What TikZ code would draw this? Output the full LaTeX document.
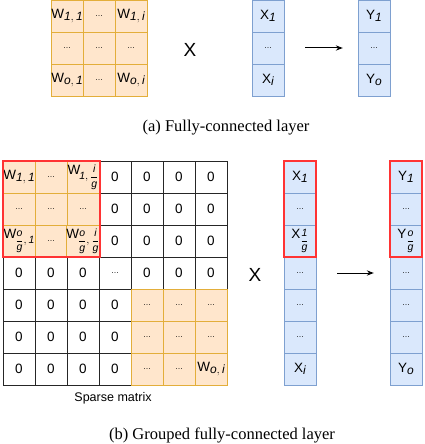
\documentclass[tikz,border=0pt]{standalone}
\usepackage{amsmath}
\usepackage{fontspec}
\setmainfont{Liberation Sans}
\newfontfamily\capfont{Liberation Serif}
\usetikzlibrary{positioning, arrows.meta}

\definecolor{wfill}{HTML}{FFE6CC}
\definecolor{wline}{HTML}{E3AE3A}
\definecolor{vfill}{HTML}{DAE8FC}
\definecolor{vline}{HTML}{7EA0D0}
\definecolor{grpred}{HTML}{FF3333}

\newcommand{\ellip}{{\footnotesize\dots}}
\newcommand{\subs}[1]{\raisebox{-0.35ex}{\fontsize{12}{12}\selectfont$\mathit{#1}$}}
\newcommand{\fsubs}[1]{\raisebox{-0.75ex}{\fontsize{10.5}{11}\selectfont$\mathit{#1}$}}

\begin{document}
\begin{tikzpicture}[x=1pt, y=-1pt,
  cell/.style={draw, minimum size=32pt, inner sep=0pt, font=\fontsize{13.5}{15}\selectfont},
  wcell/.style={cell, fill=wfill, draw=wline},
  zcell/.style={cell, draw=black!85},
  vcell/.style={cell, fill=vfill, draw=vline},
  grp/.style={draw=grpred, line width=2.4pt},
  times/.style={font=\fontsize{19}{20}\selectfont},
  edge/.style={-{Stealth[length=7pt]}, line width=1pt},
  caption/.style={font=\capfont\fontsize{16.5}{18}\selectfont}
]
  \useasboundingbox (0,0) rectangle (424,444);

  % (a) dense weights times input
  \foreach \t [count=\c] in {{W\subs{1,1}}, \ellip, {W\subs{1,i}}}
    \node[wcell] (wa1\c) at ({35+32*\c},16) {\t};
  \foreach \t [count=\c] in {\ellip, \ellip, \ellip}
    \node[wcell] (wa2\c) at ({35+32*\c},48) {\t};
  \foreach \t [count=\c] in {{W\subs{o,1}}, \ellip, {W\subs{o,i}}}
    \node[wcell] (wa3\c) at ({35+32*\c},80) {\t};

  \node[times] (timesa) at (190,50) {X};

  \foreach \t [count=\r] in {{X\subs{1}}, \ellip, {X\subs{i}}}
    \node[vcell] (xa\r) at (268,{32*\r-16}) {\t};
  \foreach \t [count=\r] in {{Y\subs{1}}, \ellip, {Y\subs{o}}}
    \node[vcell] (ya\r) at (374,{32*\r-16}) {\t};

  \draw[edge] ([xshift=21pt]xa2.east) -- ([xshift=-15pt]ya2.west);

  \node[caption] (capa) at (226,128) {(a) Fully-connected layer};

  % (b) grouped weights as a sparse matrix
  \foreach \s/\t [count=\c] in {wcell/{W\subs{1,1}}, wcell/\ellip, wcell/{W\kern-1pt\fsubs{1,\dfrac{i}{g}}}, zcell/0, zcell/0, zcell/0, zcell/0}
    \node[\s] (wb1\c) at ({32*\c-13},177) {\t};
  \foreach \s/\t [count=\c] in {wcell/\ellip, wcell/\ellip, wcell/\ellip, zcell/0, zcell/0, zcell/0, zcell/0}
    \node[\s] (wb2\c) at ({32*\c-13},209) {\t};
  \foreach \s/\t [count=\c] in {wcell/{W\kern-1pt\fsubs{\dfrac{o}{g},1}}, wcell/\ellip, wcell/{W\kern-1pt\fsubs{\dfrac{o}{g},\dfrac{i}{g}}}, zcell/0, zcell/0, zcell/0, zcell/0}
    \node[\s] (wb3\c) at ({32*\c-13},241) {\t};
  \foreach \s/\t [count=\c] in {zcell/0, zcell/0, zcell/0, zcell/\ellip, zcell/0, zcell/0, zcell/0}
    \node[\s] (wb4\c) at ({32*\c-13},273) {\t};
  \foreach \s/\t [count=\c] in {zcell/0, zcell/0, zcell/0, zcell/0, wcell/\ellip, wcell/\ellip, wcell/\ellip}
    \node[\s] (wb5\c) at ({32*\c-13},305) {\t};
  \foreach \s/\t [count=\c] in {zcell/0, zcell/0, zcell/0, zcell/0, wcell/\ellip, wcell/\ellip, wcell/\ellip}
    \node[\s] (wb6\c) at ({32*\c-13},337) {\t};
  \foreach \s/\t [count=\c] in {zcell/0, zcell/0, zcell/0, zcell/0, wcell/\ellip, wcell/\ellip, wcell/{W\subs{o,i}}}
    \node[\s] (wb7\c) at ({32*\c-13},369) {\t};

  \node[font=\fontsize{12.5}{14}\selectfont] (sparse) at (113,398) {Sparse matrix};

  \node[times] (timesb) at (255,275) {X};

  \foreach \t [count=\r] in {{X\subs{1}}, \ellip, {X\fsubs{\dfrac{1}{g}}}, \ellip, \ellip, \ellip, {X\subs{i}}}
    \node[vcell] (xb\r) at (300,{145+32*\r}) {\t};
  \foreach \t [count=\r] in {{Y\subs{1}}, \ellip, {Y\fsubs{\dfrac{o}{g}}}, \ellip, \ellip, \ellip, {Y\subs{o}}}
    \node[vcell] (yb\r) at (406,{145+32*\r}) {\t};

  \draw[edge] ([xshift=21pt]xb4.east) -- ([xshift=-16pt]yb4.west);

  % groups
  \draw[grp] (wb11.north west) rectangle (wb33.south east);
  \draw[grp] (xb1.north west) rectangle (xb3.south east);
  \draw[grp] (yb1.north west) rectangle (yb3.south east);

  \node[caption] (capb) at (222,435) {(b) Grouped fully-connected layer};
\end{tikzpicture}
\end{document}
